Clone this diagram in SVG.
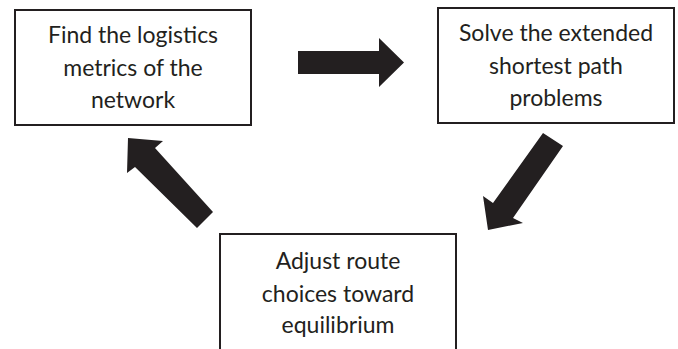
<svg xmlns="http://www.w3.org/2000/svg" width="678" height="349" viewBox="0 0 678 349">
<style>
.box{fill:#fff;stroke:#231f20;stroke-width:2}
.lbl{font-family:Lato,"Open Sans",sans-serif;font-size:23px;fill:#231f20;text-anchor:middle}
.arr{fill:#231f20;stroke:none}
</style>
<rect width="678" height="349" fill="#fff"/>
<g id="node-find">
<rect class="box" x="15" y="10" width="236" height="115"/>
<text class="lbl" x="133" y="43">Find the logistics</text>
<text class="lbl" x="133" y="76">metrics of the</text>
<text class="lbl" x="133" y="108">network</text>
</g>
<g id="node-solve">
<rect class="box" x="438" y="8" width="236" height="115"/>
<text class="lbl" x="556" y="41">Solve the extended</text>
<text class="lbl" x="556" y="74">shortest path</text>
<text class="lbl" x="556" y="106">problems</text>
</g>
<g id="node-adjust">
<rect class="box" x="220" y="234" width="236" height="125"/>
<text class="lbl" x="338" y="269">Adjust route</text>
<text class="lbl" x="338" y="302">choices toward</text>
<text class="lbl" x="338" y="333">equilibrium</text>
</g>
<g id="connectors">
<polygon class="arr" points="298,51 379,51 379,38 404,62.5 379,87 379,74 298,74"/>
<polygon class="arr" points="543,133 563,146 513,218 523,223 488,230 483,196 493,203"/>
<polygon class="arr" points="213,212 197,228 135,167 127,173 128,138 163,141 155,148"/>
</g>
</svg>
